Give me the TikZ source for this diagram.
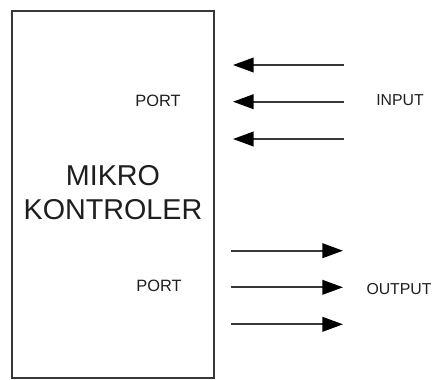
\documentclass[tikz,border=0pt]{standalone}
\usepackage{fontspec}
\setmainfont{Liberation Sans}
\usepackage{tikz}
\usetikzlibrary{arrows.meta,positioning}
\definecolor{lineclr}{RGB}{55,55,55}
\definecolor{textclr}{RGB}{30,30,30}

\begin{document}
\begin{tikzpicture}[
    x=0.03cm, y=-0.03cm,
    mcubox/.style={rectangle, draw=lineclr, line width=1.8pt, minimum width=6.06cm, minimum height=11.01cm, inner sep=0pt},
    bigtext/.style={align=center, text=textclr, font=\fontsize{24.5}{28.7}\selectfont, inner sep=0pt},
    portlbl/.style={text=textclr, font=\fontsize{14}{16}\selectfont, inner sep=0pt},
    iolbl/.style={text=textclr, font=\fontsize{13.5}{16}\selectfont, inner sep=0pt},
    arrow/.style={-{Triangle[length=0.62cm, width=0.44cm, color=black]}, line width=1.5pt, draw=lineclr},
]
\useasboundingbox (0,0) rectangle (433,379);

% === MICROCONTROLLER ===
\node[mcubox] (mcu) at (113,194.3) {};
\node[bigtext] (mcuname) at (113,192.5) {MIKRO\\KONTROLER};
\node[portlbl] (portin) at (158,101) {PORT};
\node[portlbl] (portout) at (159,286) {PORT};

% === LABELS ===
\node[iolbl] (input) at (400,100.5) {INPUT};
\node[iolbl] (output) at (399,289) {OUTPUT};

% === ARROW ENDS ===
\coordinate (ina) at (344,65);
\coordinate (inb) at (344,101.7);
\coordinate (inc) at (344,139);
\coordinate (ina') at (233,65);
\coordinate (inb') at (233,101.7);
\coordinate (inc') at (233,139);

\coordinate (outa) at (231,250.7);
\coordinate (outb) at (231,287.3);
\coordinate (outc) at (231,324.3);
\coordinate (outa') at (343,250.7);
\coordinate (outb') at (343,287.3);
\coordinate (outc') at (343,324.3);

% === ARROWS ===
\draw[arrow] (ina) -- (ina');
\draw[arrow] (inb) -- (inb');
\draw[arrow] (inc) -- (inc');

\draw[arrow] (outa) -- (outa');
\draw[arrow] (outb) -- (outb');
\draw[arrow] (outc) -- (outc');

\end{tikzpicture}
\end{document}
